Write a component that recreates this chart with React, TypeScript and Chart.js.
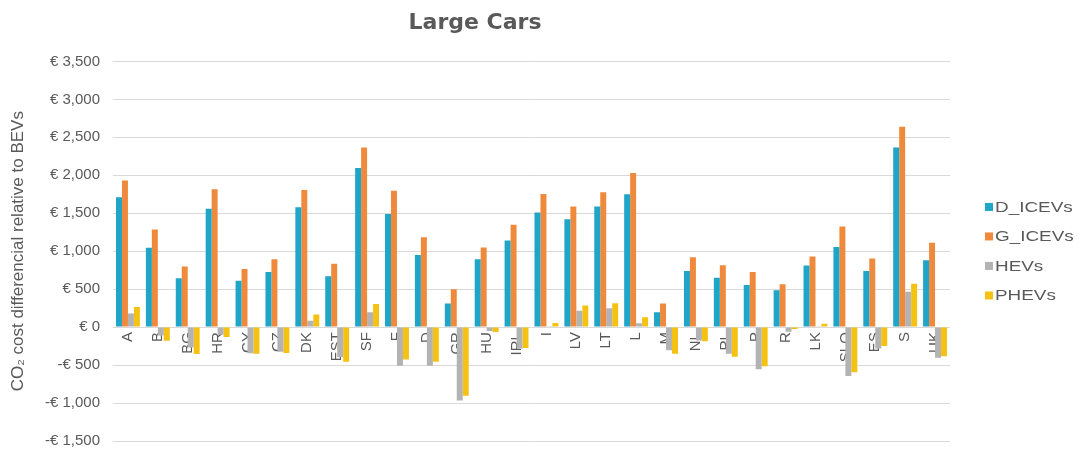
import React, { useEffect, useRef } from 'react';
import { Chart, registerables } from 'chart.js';

Chart.register(...registerables);

const categories = ['A', 'B', 'BG', 'HR', 'CY', 'CZ', 'DK', 'EST', 'SF', 'F', 'D', 'GR', 'HU', 'IRL', 'I', 'LV', 'LT', 'L', 'M', 'NL', 'PL', 'P', 'R', 'LK', 'SLO', 'ES', 'S', 'UK'];
const seriesNames = ['D_ICEVs', 'G_ICEVs', 'HEVs', 'PHEVs'];
const dIcevs = [1710, 1045, 645, 1560, 610, 725, 1580, 670, 2095, 1490, 950, 310, 895, 1140, 1510, 1420, 1590, 1750, 195, 740, 650, 555, 485, 810, 1055, 740, 2365, 880];
const gIcevs = [1930, 1285, 800, 1815, 765, 895, 1805, 835, 2365, 1795, 1185, 500, 1050, 1350, 1755, 1590, 1775, 2030, 310, 920, 815, 725, 565, 930, 1325, 905, 2640, 1110];
const hevs = [180, -110, -270, -100, -345, -325, 85, -395, 195, -510, -510, -965, -50, -280, 10, 215, 250, 50, -305, -175, -350, -555, -60, 5, -645, -280, 465, -405];
const phevs = [265, -180, -355, -130, -350, -340, 165, -455, 305, -425, -455, -905, -65, -275, 55, 285, 315, 130, -350, -185, -390, -515, -25, 45, -595, -250, 570, -385];
const seriesColors = ['#1fa5c8', '#ef8a3c', '#b3b3b3', '#f5c211'];
const yMin = -1500;
const yMax = 3500;
const yStep = 500;
const chartTitle = 'Large Cars';
const yTitle = 'CO\u2082 cost differencial relative to BEVs';

const TEXT = '#595959';
const FONT = '"Liberation Sans", Arial, sans-serif';

const sideLegend = {
  id: 'sideLegend',
  afterDraw(chart: any) {
    const { ctx, chartArea } = chart;
    const ds = chart.data.datasets;
    const spacing = 29.5;
    const cy = (chartArea.top + chartArea.bottom) / 2;
    const x0 = chartArea.right + 35;
    ctx.save();
    ctx.font = '14px ' + FONT;
    ctx.textBaseline = 'middle';
    ds.forEach((d: any, i: number) => {
      const y = cy + (i - (ds.length - 1) / 2) * spacing;
      ctx.fillStyle = d.backgroundColor;
      ctx.fillRect(x0, y - 4, 8, 8);
      ctx.save();
      ctx.translate(x0 + 10, y + 1);
      ctx.scale(1.35, 1);
      ctx.fillStyle = TEXT;
      ctx.fillText(d.label, 0, 0);
      ctx.restore();
    });
    ctx.restore();
  },
};

function formatEuro(v: number): string {
  const abs = Math.abs(v).toLocaleString('en-US');
  return v < 0 ? '-\u20AC ' + abs : '\u20AC ' + abs;
}

export default function App() {
  const ref = useRef<HTMLCanvasElement | null>(null);

  useEffect(() => {
    if (!ref.current) return;
    const values = [dIcevs, gIcevs, hevs, phevs];
    const chart = new Chart(ref.current, {
      type: 'bar',
      data: {
        labels: categories,
        datasets: seriesNames.map((name, i) => ({
          label: name,
          data: values[i],
          backgroundColor: seriesColors[i],
          borderWidth: 0,
          categoryPercentage: 0.8,
          barPercentage: 1.0,
        })),
      },
      options: {
        responsive: false,
        animation: false,
        layout: { padding: { top: 0, left: 0, right: 129, bottom: 0 } },
        plugins: {
          legend: { display: false },
          tooltip: { enabled: false },
          title: {
            display: true,
            text: chartTitle,
            color: TEXT,
            font: { family: '"DejaVu Sans", Arial, sans-serif', size: 22, weight: 'bold' },
            padding: { top: 10, bottom: 25 },
          },
        },
        scales: {
          x: {
            position: { y: 0 } as any,
            grid: { display: false, drawTicks: false },
            border: { display: false },
            ticks: {
              autoSkip: false,
              minRotation: 90,
              maxRotation: 90,
              padding: 5,
              color: TEXT,
              font: { family: FONT, size: 15 },
            },
          },
          y: {
            min: yMin,
            max: yMax,
            afterFit: (scale: any) => {
              scale.width = 113;
            },
            grid: { color: '#d9d9d9', drawTicks: true, tickLength: 13, tickColor: 'rgba(0,0,0,0)', lineWidth: 1 },
            border: { display: false },
            ticks: {
              stepSize: yStep,
              padding: 0,
              color: TEXT,
              font: { family: FONT, size: 15 },
              callback: (v: any) => formatEuro(Number(v)),
            },
            title: {
              display: true,
              text: yTitle,
              color: TEXT,
              font: { family: FONT, size: 17 },
              padding: { top: 8, bottom: 0 },
            },
          },
        },
      },
      plugins: [sideLegend],
    });
    return () => chart.destroy();
  }, []);

  return (
    <div style={{ position: 'fixed', left: 0, top: 0, width: 1079, height: 450, background: '#fff' }}>
      <canvas ref={ref} width={1079} height={450} style={{ display: 'block' }} />
    </div>
  );
}
